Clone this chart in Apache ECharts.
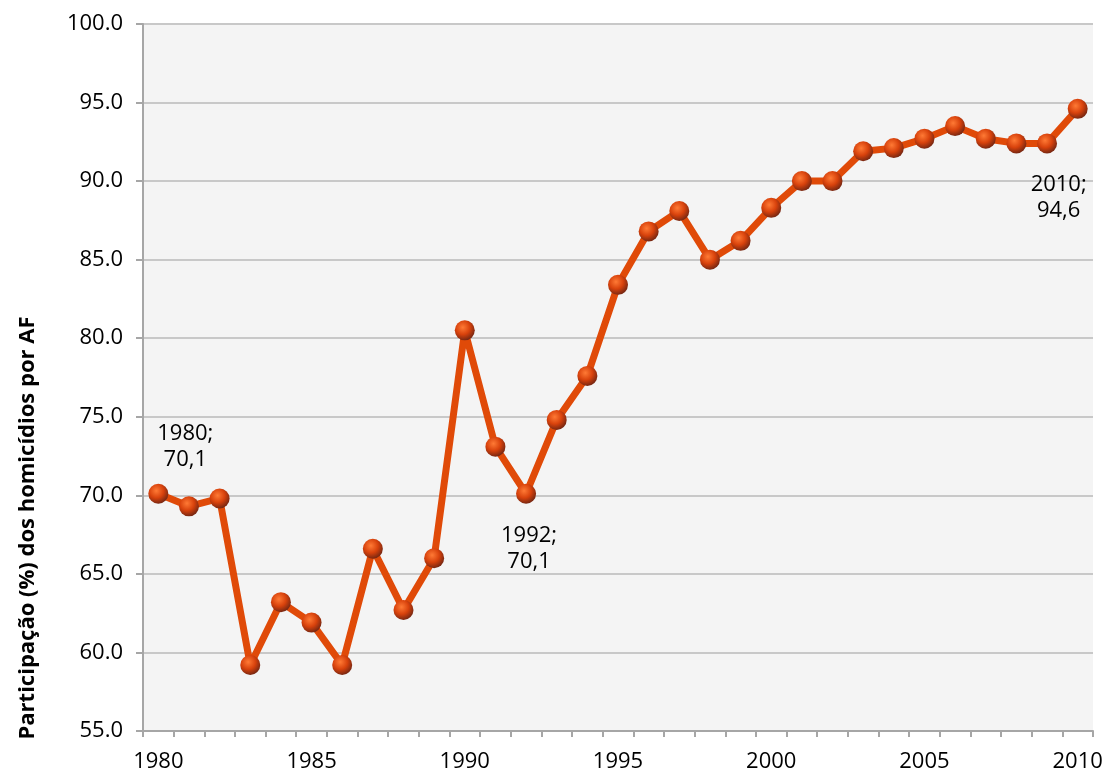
<!DOCTYPE html>
<html>
<head>
<meta charset="utf-8">
<script src="https://cdn.jsdelivr.net/npm/echarts@6/dist/echarts.min.js"></script>
<style>
  html, body { margin: 0; padding: 0; background: #fff; }
  #chart { width: 1107px; height: 773px; }
</style>
</head>
<body>
<div id="chart"></div>
<script>
var years = ['1980','1981','1982','1983','1984','1985','1986','1987','1988','1989',
             '1990','1991','1992','1993','1994','1995','1996','1997','1998','1999',
             '2000','2001','2002','2003','2004','2005','2006','2007','2008','2009','2010'];
var values = [70.1, 69.3, 69.8, 59.2, 63.2, 61.9, 59.2, 66.6, 62.7, 66.0,
              80.5, 73.1, 70.1, 74.8, 77.6, 83.4, 86.8, 88.1, 85.0, 86.2,
              88.3, 90.0, 90.0, 91.9, 92.1, 92.7, 93.5, 92.7, 92.4, 92.4, 94.6];
// pontos com rótulo: índice, texto
var labelled = [
    { idx: 0,  text: '1980;\n70,1', offset: [27, -47] },
    { idx: 12, text: '1992;\n70,1', offset: [3, 55] },
    { idx: 30, text: '2010;\n94,6', offset: [-19, 89] }
];

var myChart = echarts.init(document.getElementById('chart'));

var seriesData = values.map(function (v, i) {
    var item = { value: v };
    labelled.forEach(function (l) {
        if (l.idx === i) {
            item.label = {
                show: true,
                position: 'inside',
                offset: l.offset,
                formatter: l.text,
                color: '#000',
                fontSize: 22,
                lineHeight: 26,
                fontFamily: 'Open Sans'
            };
        }
    });
    return item;
});

var option = {
    animation: false,
    grid: {
        left: 143, right: 14, top: 24, bottom: 42,
        show: true, backgroundColor: '#f4f4f4', borderWidth: 0
    },
    xAxis: {
        type: 'category',
        data: years,
        boundaryGap: true,
        axisLine: { lineStyle: { color: '#a6a6a6', width: 2 } },
        axisTick: { show: true, interval: 0, length: 6, lineStyle: { color: '#a6a6a6', width: 2 } },
        axisLabel: { interval: 4, color: '#000', fontSize: 22, fontFamily: 'Open Sans', margin: 20 }
    },
    yAxis: {
        type: 'value',
        min: 55, max: 100, interval: 5,
        axisLine: { show: true, lineStyle: { color: '#a6a6a6', width: 2 } },
        axisTick: { show: true, length: 7, lineStyle: { color: '#a6a6a6', width: 2 } },
        splitLine: { lineStyle: { color: '#c8c8c8', width: 2 } },
        axisLabel: {
            color: '#000', fontSize: 22, fontFamily: 'Open Sans', margin: 20,
            formatter: function (v) { return v.toFixed(1); }
        }
    },
    graphic: [{
        type: 'text',
        x: 28, y: 528,
        rotation: Math.PI / 2,
        style: {
            text: 'Participação (%) dos homicídios por AF',
            fill: '#000',
            font: 'bold 22px "Open Sans"',
            textAlign: 'center',
            textVerticalAlign: 'middle'
        }
    }],
    series: [{
        type: 'line',
        data: seriesData,
        symbol: 'circle',
        symbolSize: 20,
        lineStyle: { color: '#e04a08', width: 7 },
        itemStyle: {
            color: {
                type: 'radial', x: 0.4, y: 0.35, r: 0.65,
                colorStops: [
                    { offset: 0, color: '#ff7a35' },
                    { offset: 0.55, color: '#d8420c' },
                    { offset: 1, color: '#7a2812' }
                ]
            },
            borderWidth: 0
        },
        z: 3
    }]
};

myChart.setOption(option);
</script>
</body>
</html>
